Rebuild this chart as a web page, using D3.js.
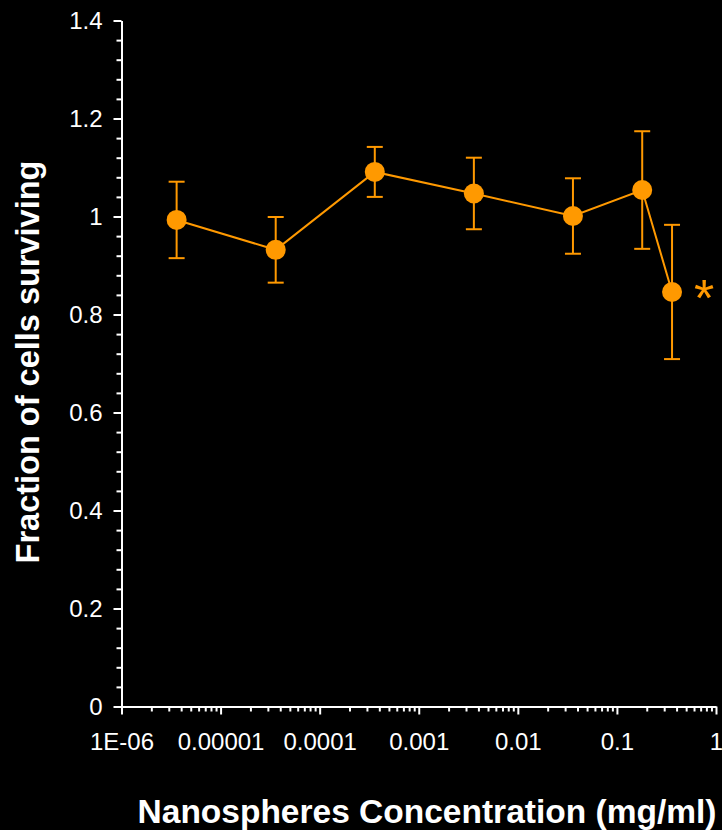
<!DOCTYPE html>
<html>
<head>
<meta charset="utf-8">
<script src="https://cdn.jsdelivr.net/npm/d3@7"></script>
<style>
html,body{margin:0;padding:0;background:#000;}
svg{display:block;font-family:"Liberation Sans",Arial,sans-serif;}
</style>
</head>
<body>
<svg id="chart" width="722" height="830"></svg>
<script>
// Data
const concentrations = [3.6e-6, 3.6e-5, 3.6e-4, 3.6e-3, 3.6e-2, 0.18, 0.36];
const fractionSurviving = [0.993, 0.932, 1.091, 1.047, 1.001, 1.054, 0.846];
const errorBars = [0.078, 0.067, 0.051, 0.073, 0.077, 0.120, 0.137];
const xTickValues = [1e-6, 1e-5, 1e-4, 1e-3, 1e-2, 1e-1, 1];
const xTickLabels = ["1E-06", "0.00001", "0.0001", "0.001", "0.01", "0.1", "1"];
const yTickValues = [0, 0.2, 0.4, 0.6, 0.8, 1, 1.2, 1.4];
const yTickLabels = ["0", "0.2", "0.4", "0.6", "0.8", "1", "1.2", "1.4"];
const significantIndex = [6];

const orange = "#FF9900";
const svg = d3.select("#chart");
svg.append("rect").attr("width", 722).attr("height", 830).attr("fill", "#000");

const x = d3.scaleLog().domain([1e-6, 1]).range([121.5, 716]);
const y = d3.scaleLinear().domain([0, 1.4]).range([706.5, 20.5]);

// minor ticks
const yMinor = d3.range(0, 1.4001, 0.04).filter(v => Math.abs(v / 0.2 - Math.round(v / 0.2)) > 1e-6);
const xMinor = [];
for (let e = -6; e < 0; e++) for (let k = 2; k <= 9; k++) xMinor.push(k * Math.pow(10, e));

const gY = svg.append("g").attr("transform", `translate(${x.range()[0]},0)`);
gY.call(d3.axisLeft(y).tickValues(yMinor).tickSize(5).tickFormat("").tickSizeOuter(0));
gY.call(g => g.select(".domain").remove());
const gY2 = svg.append("g").attr("transform", `translate(${x.range()[0]},0)`);
gY2.call(d3.axisLeft(y).tickValues(yTickValues).tickSize(8).tickPadding(11).tickSizeOuter(0)
  .tickFormat((d, i) => yTickLabels[i]));

const gX = svg.append("g").attr("transform", `translate(0,${y(0)})`);
gX.call(d3.axisBottom(x).tickValues(xMinor).tickSize(5).tickFormat("").tickSizeOuter(0));
gX.call(g => g.select(".domain").remove());
const gX2 = svg.append("g").attr("transform", `translate(0,${y(0)})`);
gX2.call(d3.axisBottom(x).tickValues(xTickValues).tickSize(8).tickPadding(18).tickSizeOuter(0)
  .tickFormat((d, i) => xTickLabels[i]));

svg.selectAll(".domain, .tick line").attr("stroke", "#fff").attr("stroke-width", 2);
svg.selectAll(".tick text").attr("fill", "#fff").attr("font-size", 24)
  .attr("font-family", "'Liberation Sans',Arial,sans-serif");
gX2.selectAll(".tick text").attr("dy", "0.71em");

// data
const data = concentrations.map((c, i) => ({c, v: fractionSurviving[i], e: errorBars[i]}));

const eb = svg.append("g").attr("stroke", orange).attr("stroke-width", 2);
data.forEach(d => {
  const cx = x(d.c);
  eb.append("line").attr("x1", cx).attr("x2", cx).attr("y1", y(d.v + d.e)).attr("y2", y(d.v - d.e));
  eb.append("line").attr("x1", cx - 8).attr("x2", cx + 8).attr("y1", y(d.v + d.e)).attr("y2", y(d.v + d.e));
  eb.append("line").attr("x1", cx - 8).attr("x2", cx + 8).attr("y1", y(d.v - d.e)).attr("y2", y(d.v - d.e));
});

svg.append("path").datum(data)
  .attr("fill", "none").attr("stroke", orange).attr("stroke-width", 2)
  .attr("d", d3.line().x(d => x(d.c)).y(d => y(d.v)));

svg.append("g").selectAll("circle").data(data).join("circle")
  .attr("cx", d => x(d.c)).attr("cy", d => y(d.v)).attr("r", 10).attr("fill", orange);

significantIndex.forEach(i => {
  svg.append("text").attr("x", x(data[i].c) + 32).attr("y", y(data[i].v) + 24)
    .attr("text-anchor", "middle").attr("fill", orange).attr("font-size", 52).text("*");
});

// titles
svg.append("text").attr("x", 427).attr("y", 823).attr("text-anchor", "middle")
  .attr("fill", "#fff").attr("font-weight", "bold").attr("font-size", 33.5)
  .text("Nanospheres Concentration (mg/ml)");
svg.append("text").attr("transform", `translate(39,362) rotate(-90)`).attr("text-anchor", "middle")
  .attr("fill", "#fff").attr("font-weight", "bold").attr("font-size", 32.5)
  .text("Fraction of cells surviving");
</script>
</body>
</html>
